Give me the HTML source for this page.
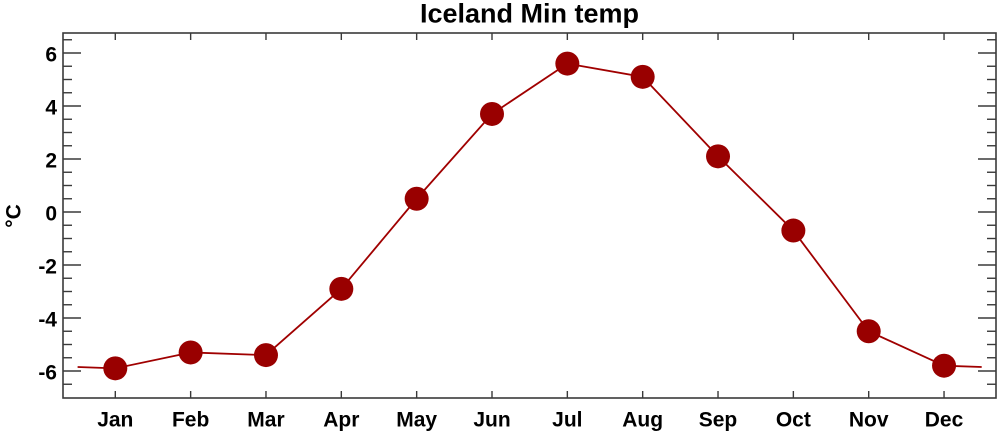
<!DOCTYPE html>
<html>
<head>
<meta charset="utf-8">
<style>
html,body{margin:0;padding:0;background:#fff;}
svg{display:block;}
text{font-family:"Liberation Sans",Arial,sans-serif;font-weight:bold;fill:#000;}
</style>
</head>
<body>
<svg width="1000" height="434" viewBox="0 0 1000 434" xmlns="http://www.w3.org/2000/svg">
<rect width="1000" height="434" fill="#fff"/>
<text x="529.5" y="22.5" font-size="27" text-anchor="middle">Iceland Min temp</text>
<text transform="translate(20.5,216) rotate(-90)" font-size="21" text-anchor="middle">°C</text>

<!-- axes box -->
<rect x="63" y="33" width="933" height="365" fill="none" stroke="#3a3a3a" stroke-width="1.6"/>

<g stroke="#3a3a3a" stroke-width="1.4">
<!-- left major -->
<line x1="63" y1="53" x2="81" y2="53"/>
<line x1="63" y1="106" x2="81" y2="106"/>
<line x1="63" y1="159" x2="81" y2="159"/>
<line x1="63" y1="212" x2="81" y2="212"/>
<line x1="63" y1="265" x2="81" y2="265"/>
<line x1="63" y1="318" x2="81" y2="318"/>
<line x1="63" y1="371" x2="81" y2="371"/>
<!-- left minor -->
<line x1="63" y1="39.75" x2="72" y2="39.75"/>
<line x1="63" y1="66.25" x2="72" y2="66.25"/>
<line x1="63" y1="79.5" x2="72" y2="79.5"/>
<line x1="63" y1="92.75" x2="72" y2="92.75"/>
<line x1="63" y1="119.25" x2="72" y2="119.25"/>
<line x1="63" y1="132.5" x2="72" y2="132.5"/>
<line x1="63" y1="145.75" x2="72" y2="145.75"/>
<line x1="63" y1="172.25" x2="72" y2="172.25"/>
<line x1="63" y1="185.5" x2="72" y2="185.5"/>
<line x1="63" y1="198.75" x2="72" y2="198.75"/>
<line x1="63" y1="225.25" x2="72" y2="225.25"/>
<line x1="63" y1="238.5" x2="72" y2="238.5"/>
<line x1="63" y1="251.75" x2="72" y2="251.75"/>
<line x1="63" y1="278.25" x2="72" y2="278.25"/>
<line x1="63" y1="291.5" x2="72" y2="291.5"/>
<line x1="63" y1="304.75" x2="72" y2="304.75"/>
<line x1="63" y1="331.25" x2="72" y2="331.25"/>
<line x1="63" y1="344.5" x2="72" y2="344.5"/>
<line x1="63" y1="357.75" x2="72" y2="357.75"/>
<line x1="63" y1="384.25" x2="72" y2="384.25"/>
<!-- right major -->
<line x1="996" y1="53" x2="978" y2="53"/>
<line x1="996" y1="106" x2="978" y2="106"/>
<line x1="996" y1="159" x2="978" y2="159"/>
<line x1="996" y1="212" x2="978" y2="212"/>
<line x1="996" y1="265" x2="978" y2="265"/>
<line x1="996" y1="318" x2="978" y2="318"/>
<line x1="996" y1="371" x2="978" y2="371"/>
<!-- right minor -->
<line x1="996" y1="39.75" x2="987" y2="39.75"/>
<line x1="996" y1="66.25" x2="987" y2="66.25"/>
<line x1="996" y1="79.5" x2="987" y2="79.5"/>
<line x1="996" y1="92.75" x2="987" y2="92.75"/>
<line x1="996" y1="119.25" x2="987" y2="119.25"/>
<line x1="996" y1="132.5" x2="987" y2="132.5"/>
<line x1="996" y1="145.75" x2="987" y2="145.75"/>
<line x1="996" y1="172.25" x2="987" y2="172.25"/>
<line x1="996" y1="185.5" x2="987" y2="185.5"/>
<line x1="996" y1="198.75" x2="987" y2="198.75"/>
<line x1="996" y1="225.25" x2="987" y2="225.25"/>
<line x1="996" y1="238.5" x2="987" y2="238.5"/>
<line x1="996" y1="251.75" x2="987" y2="251.75"/>
<line x1="996" y1="278.25" x2="987" y2="278.25"/>
<line x1="996" y1="291.5" x2="987" y2="291.5"/>
<line x1="996" y1="304.75" x2="987" y2="304.75"/>
<line x1="996" y1="331.25" x2="987" y2="331.25"/>
<line x1="996" y1="344.5" x2="987" y2="344.5"/>
<line x1="996" y1="357.75" x2="987" y2="357.75"/>
<line x1="996" y1="384.25" x2="987" y2="384.25"/>
<!-- x ticks top & bottom -->
<line x1="115.3" y1="33" x2="115.3" y2="40"/><line x1="115.3" y1="398" x2="115.3" y2="391"/>
<line x1="190.64" y1="33" x2="190.64" y2="40"/><line x1="190.64" y1="398" x2="190.64" y2="391"/>
<line x1="265.98" y1="33" x2="265.98" y2="40"/><line x1="265.98" y1="398" x2="265.98" y2="391"/>
<line x1="341.32" y1="33" x2="341.32" y2="40"/><line x1="341.32" y1="398" x2="341.32" y2="391"/>
<line x1="416.66" y1="33" x2="416.66" y2="40"/><line x1="416.66" y1="398" x2="416.66" y2="391"/>
<line x1="492" y1="33" x2="492" y2="40"/><line x1="492" y1="398" x2="492" y2="391"/>
<line x1="567.34" y1="33" x2="567.34" y2="40"/><line x1="567.34" y1="398" x2="567.34" y2="391"/>
<line x1="642.68" y1="33" x2="642.68" y2="40"/><line x1="642.68" y1="398" x2="642.68" y2="391"/>
<line x1="718.02" y1="33" x2="718.02" y2="40"/><line x1="718.02" y1="398" x2="718.02" y2="391"/>
<line x1="793.36" y1="33" x2="793.36" y2="40"/><line x1="793.36" y1="398" x2="793.36" y2="391"/>
<line x1="868.7" y1="33" x2="868.7" y2="40"/><line x1="868.7" y1="398" x2="868.7" y2="391"/>
<line x1="944.04" y1="33" x2="944.04" y2="40"/><line x1="944.04" y1="398" x2="944.04" y2="391"/>
</g>

<!-- y labels -->
<g font-size="21" text-anchor="end">
<text x="57" y="61.5">6</text>
<text x="57" y="114.5">4</text>
<text x="57" y="167.5">2</text>
<text x="57" y="220.5">0</text>
<text x="57" y="273.5">-2</text>
<text x="57" y="326.5">-4</text>
<text x="57" y="379.5">-6</text>
</g>

<!-- x labels -->
<g font-size="21" text-anchor="middle">
<text x="115.3" y="426.5">Jan</text>
<text x="190.64" y="426.5">Feb</text>
<text x="265.98" y="426.5">Mar</text>
<text x="341.32" y="426.5">Apr</text>
<text x="416.66" y="426.5">May</text>
<text x="492" y="426.5">Jun</text>
<text x="567.34" y="426.5">Jul</text>
<text x="642.68" y="426.5">Aug</text>
<text x="718.02" y="426.5">Sep</text>
<text x="793.36" y="426.5">Oct</text>
<text x="868.7" y="426.5">Nov</text>
<text x="944.04" y="426.5">Dec</text>
</g>

<!-- series -->
<polyline fill="none" stroke="#a00000" stroke-width="1.8" stroke-linejoin="round"
points="77.6,367 115.3,368.35 190.64,352.45 265.98,355.1 341.32,288.85 416.66,198.75 492,113.95 567.34,63.6 642.68,76.85 718.02,156.35 793.36,230.55 868.7,331.25 944.04,365.7 981.7,367"/>
<g fill="#990000">
<circle cx="115.3" cy="368.35" r="12"/>
<circle cx="190.64" cy="352.45" r="12"/>
<circle cx="265.98" cy="355.1" r="12"/>
<circle cx="341.32" cy="288.85" r="12"/>
<circle cx="416.66" cy="198.75" r="12"/>
<circle cx="492" cy="113.95" r="12"/>
<circle cx="567.34" cy="63.6" r="12"/>
<circle cx="642.68" cy="76.85" r="12"/>
<circle cx="718.02" cy="156.35" r="12"/>
<circle cx="793.36" cy="230.55" r="12"/>
<circle cx="868.7" cy="331.25" r="12"/>
<circle cx="944.04" cy="365.7" r="12"/>
</g>
</svg>
</body>
</html>
